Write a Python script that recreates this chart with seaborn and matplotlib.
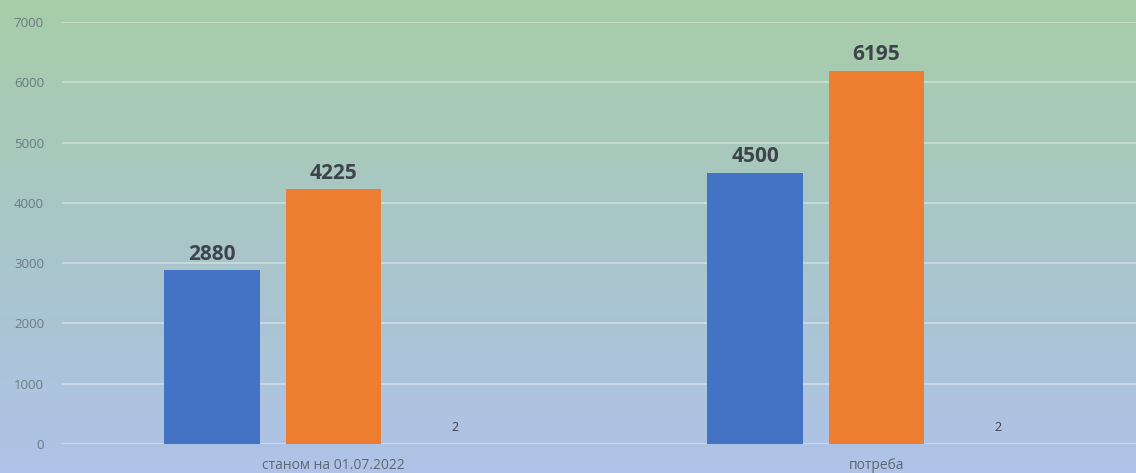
import numpy as np
import pandas as pd
import matplotlib.pyplot as plt
import seaborn as sns
from matplotlib.colors import LinearSegmentedColormap

# data
categories = ["станом на 01.07.2022", "потреба"]
series_names = ["s1", "s2", "s3"]
values_s1 = [2880, 4500]
values_s2 = [4225, 6195]
values_s3 = [2, 2]
yticks = [0, 1000, 2000, 3000, 4000, 5000, 6000, 7000]

df = pd.DataFrame({
    "category": categories * 3,
    "series": [series_names[0]] * 2 + [series_names[1]] * 2 + [series_names[2]] * 2,
    "value": values_s1 + values_s2 + values_s3,
})

sns.set_style("white")
plt.rcParams['font.family'] = ['Open Sans', 'DejaVu Sans']

fig = plt.figure(figsize=(11.36, 4.73), dpi=100)

# gradient background, green at top to light blue at bottom
bg = fig.add_axes([0, 0, 1, 1], zorder=0)
cmap = LinearSegmentedColormap.from_list("bg", ["#AFC3E8", "#A9C6C9", "#A7CDA7"])
grad = np.linspace(0, 1, 256).reshape(-1, 1)
bg.imshow(grad, aspect="auto", cmap=cmap, origin="lower", extent=[0, 1, 0, 1])
bg.axis("off")

ax = fig.add_axes([62 / 1136, 29 / 473, 1086 / 1136, (444 - 22) / 473], zorder=1)
ax.patch.set_alpha(0)

sns.barplot(data=df, x="category", y="value", hue="series",
            palette=["#4472C4", "#ED7D31", "#A5A5A5"], saturation=1,
            width=0.67, gap=0.21, linewidth=0, ax=ax, legend=False, zorder=3)

ax.set_ylim(0, 7000)
ax.set_yticks(yticks)
ax.set_yticklabels([str(t) for t in yticks])
ax.grid(axis="y", color="white", alpha=0.45, linewidth=1.1, zorder=0)
ax.set_axisbelow(True)
for s in ax.spines.values():
    s.set_visible(False)
ax.tick_params(axis="y", length=0, labelsize=9.5, labelcolor="#6B7B80", pad=13)
ax.tick_params(axis="x", length=0, labelsize=10, labelcolor="#5E6870", pad=10)
ax.set_xlabel("")
ax.set_ylabel("")

for i, cont in enumerate(ax.containers):
    if i < 2:
        ax.bar_label(cont, fmt="%d", padding=4, fontsize=15, fontweight="bold", color="#3F434A")
    else:
        ax.bar_label(cont, fmt="%d", padding=7, fontsize=9, color="#404040")

fig.savefig("out.png", dpi=100)
